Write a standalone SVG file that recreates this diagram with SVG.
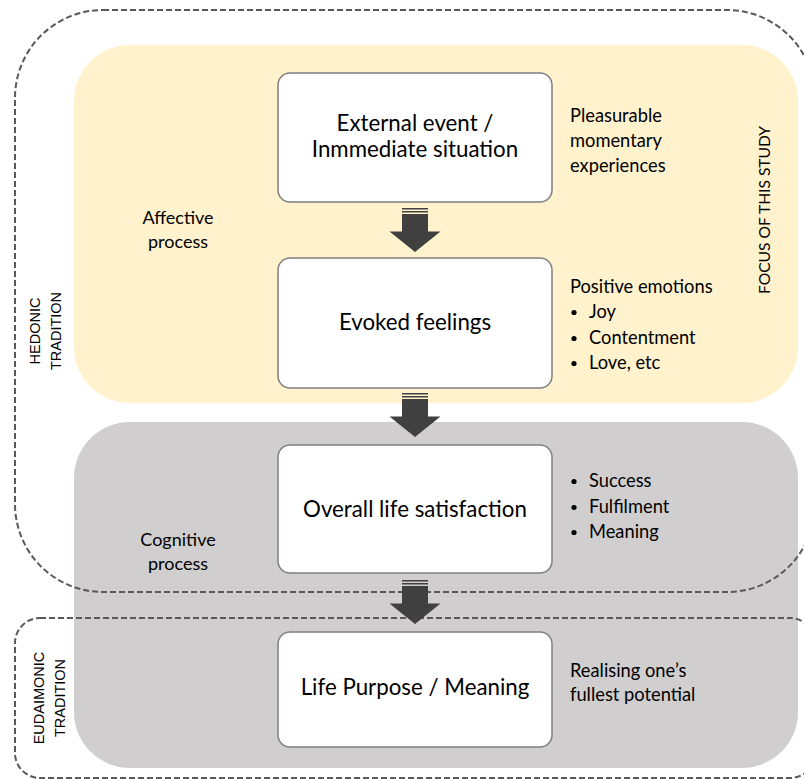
<svg xmlns="http://www.w3.org/2000/svg" width="804" height="779" viewBox="0 0 804 779">
<defs>
<style>
.node rect{fill:#fff;stroke:#7f7f7f;stroke-width:1.5}
.nt{font-family:Lato,"Open Sans",sans-serif;font-size:22.3px;fill:#000;text-anchor:middle}
.st{font-family:Lato,"Open Sans",sans-serif;font-size:18.3px;fill:#000}
.lt{font-family:Lato,"Open Sans",sans-serif;font-size:18px;fill:#000;text-anchor:middle}
.ft{font-family:Lato,"Open Sans",sans-serif;font-size:15.6px;fill:#000;text-anchor:middle}
.rt{font-family:"Liberation Sans",Arial,sans-serif;font-size:14.5px;fill:#000;text-anchor:middle}
.dash{fill:none;stroke:#595959;stroke-width:2;stroke-dasharray:6 3}
.arrow{fill:#404040}
</style>
<g id="arrowShape">
<rect x="-13" y="0" width="26" height="1.5"/>
<rect x="-13" y="3" width="26" height="1.5"/>
<path d="M-13 6 H13 V23.5 H25.5 L0 44 L-25.5 23.5 H-13 Z"/>
</g>
</defs>
<rect id="affective-region" x="74" y="45" width="724" height="358" rx="56" fill="#fff2cc"/>
<rect id="cognitive-region" x="74" y="422" width="724" height="346" rx="56" fill="#d0cece"/>
<g id="hedonic-tradition">
<rect class="dash" x="15" y="10" width="800" height="582" rx="88"/>
<text class="rt" transform="translate(40,331) rotate(-90)">HEDONIC</text>
<text class="rt" transform="translate(61,331) rotate(-90)">TRADITION</text>
</g>
<g id="eudaimonic-tradition">
<rect class="dash" x="15" y="618" width="800" height="160" rx="25"/>
<text class="rt" transform="translate(44,698) rotate(-90)">EUDAIMONIC</text>
<text class="rt" transform="translate(65,698) rotate(-90)">TRADITION</text>
</g>
<g id="connectors" class="arrow">
<use href="#arrowShape" transform="translate(415,208)"/>
<use href="#arrowShape" transform="translate(415,393)"/>
<use href="#arrowShape" transform="translate(415,580)"/>
</g>
<g id="external-event" class="node">
<rect x="278" y="73" width="274" height="129" rx="12"/>
<text class="nt" x="415" y="130.5">External event /</text>
<text class="nt" x="415" y="157">Inmmediate situation</text>
</g>
<g id="evoked-feelings" class="node">
<rect x="278" y="258" width="274" height="130" rx="12"/>
<text class="nt" x="415" y="330">Evoked feelings</text>
</g>
<g id="life-satisfaction" class="node">
<rect x="278" y="445" width="274" height="128" rx="12"/>
<text class="nt" x="415" y="517">Overall life satisfaction</text>
</g>
<g id="life-purpose" class="node">
<rect x="278" y="632" width="274" height="115" rx="12"/>
<text class="nt" x="415" y="695">Life Purpose / Meaning</text>
</g>
<g id="labels">
<text class="lt" x="178" y="224">Affective</text>
<text class="lt" x="178" y="248">process</text>
<text class="lt" x="178" y="546">Cognitive</text>
<text class="lt" x="178" y="570">process</text>
<text class="st" x="570" y="122">Pleasurable</text>
<text class="st" x="570" y="147">momentary</text>
<text class="st" x="570" y="172">experiences</text>
<text class="st" x="570" y="293">Positive emotions</text>
<circle cx="574" cy="312.5" r="2.6"/><text class="st" x="589" y="318">Joy</text>
<circle cx="574" cy="338.5" r="2.6"/><text class="st" x="589" y="344">Contentment</text>
<circle cx="574" cy="363.5" r="2.6"/><text class="st" x="589" y="369">Love, etc</text>
<circle cx="574" cy="481.5" r="2.6"/><text class="st" x="589" y="487">Success</text>
<circle cx="574" cy="507.5" r="2.6"/><text class="st" x="589" y="513">Fulfilment</text>
<circle cx="574" cy="532.5" r="2.6"/><text class="st" x="589" y="538">Meaning</text>
<text class="st" x="570" y="677">Realising one’s</text>
<text class="st" x="570" y="701">fullest potential</text>
<text class="ft" transform="translate(770,210) rotate(-90)">FOCUS OF THIS STUDY</text>
</g>
</svg>
